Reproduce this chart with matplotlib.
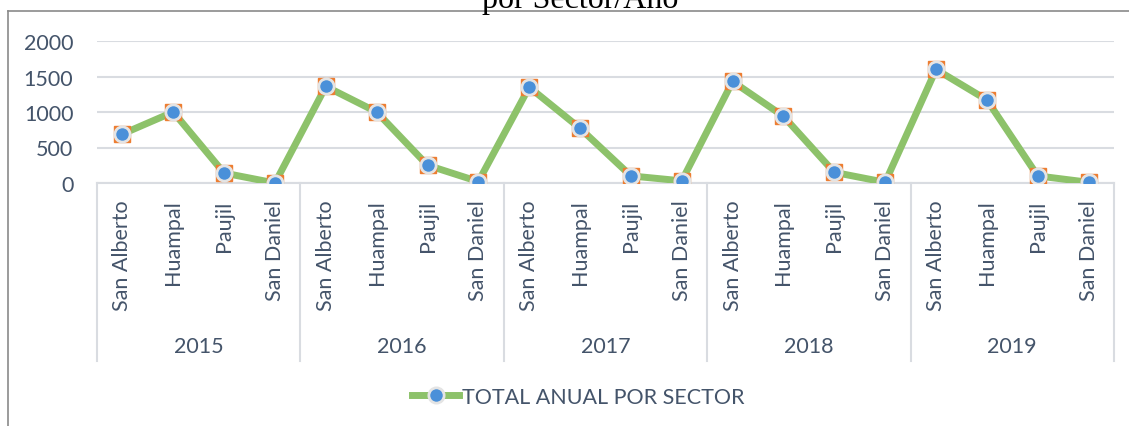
import matplotlib
matplotlib.use("Agg")
import matplotlib.pyplot as plt
from matplotlib.lines import Line2D
from matplotlib.transforms import blended_transform_factory

years = ["2015", "2016", "2017", "2018", "2019"]
sectors = ["San Alberto", "Huampal", "Paujil", "San Daniel"]
totals = [690, 1000, 140, 0,
          1360, 1000, 250, 20,
          1350, 770, 100, 30,
          1430, 940, 150, 10,
          1600, 1170, 100, 10]

txt = "#44546A"
grid = "#D9DCE1"
fs = 15.5
plt.rcParams["font.family"] = ["Lato", "DejaVu Sans"]

W, H = 1129, 427
fig = plt.figure(figsize=(W / 100, H / 100), dpi=100)
ax = fig.add_axes([97 / W, 1 - 184 / H, (1114 - 97) / W, (184 - 42) / H])

labels = sectors * len(years)
x = list(range(len(labels)))

ax.plot(x, totals, color="#8DC26A", lw=5, zorder=3, solid_capstyle="round")
ax.plot(x, totals, ls="none", marker="s", ms=11.5, mfc="#ED7D31", mec="#ED7D31", zorder=4)
ax.plot(x, totals, ls="none", marker="o", ms=11, mfc="#4A90D9", mec="#E4E4E4", mew=2, zorder=5)

ax.set_xlim(-0.5, len(labels) - 0.5)
ax.set_ylim(0, 2000)
ax.set_yticks([0, 500, 1000, 1500, 2000])
ax.yaxis.grid(True, color=grid, lw=1.5)
ax.set_axisbelow(True)
for s in ["top", "right", "left"]:
    ax.spines[s].set_visible(False)
ax.spines["bottom"].set_color(grid)
ax.spines["bottom"].set_linewidth(1.5)
ax.tick_params(axis="y", length=0, labelsize=fs, labelcolor=txt, pad=17)

ax.set_xticks(x)
ax.set_xticklabels(labels, rotation=90, va="top", ha="center")
ax.tick_params(axis="x", length=0, labelsize=fs, labelcolor=txt, pad=12)

# year groups
tr = blended_transform_factory(ax.transData, fig.transFigure)
n = len(sectors)
for i, yr in enumerate(years):
    ax.text(i * n + (n - 1) / 2, 1 - 347 / H, yr, transform=tr, ha="center",
            va="center", fontsize=fs, color=txt)
for k in range(len(years) + 1):
    xs = k * n - 0.5
    ax.add_line(Line2D([xs, xs], [1 - 184 / H, 1 - 362 / H], transform=tr,
                       color=grid, lw=1.5, clip_on=False))

# legend
leg_handle = Line2D([], [], color="#8DC26A", lw=5, marker="o", ms=11,
                    mfc="#4A90D9", mec="#E4E4E4", mew=2)
fig.legend([leg_handle], ["TOTAL ANUAL POR SECTOR"], loc="center",
           bbox_to_anchor=(578 / W, 1 - 398 / H), frameon=False,
           fontsize=fs, labelcolor=txt, handlelength=2.2, handletextpad=0.1)

# chart frame and clipped title
fig.add_artist(Line2D([8 / W, 1], [1 - 12 / H, 1 - 12 / H], color="#8A8A8A", lw=1.2))
fig.add_artist(Line2D([8 / W, 8 / W], [0, 1 - 12 / H], color="#8A8A8A", lw=1.2))
fig.text(580 / W, 1 - 8 / H, "por Sector/Año", ha="center", va="baseline",
         fontsize=23, family="Liberation Serif", color="black")

fig.savefig("out.png", dpi=100)
